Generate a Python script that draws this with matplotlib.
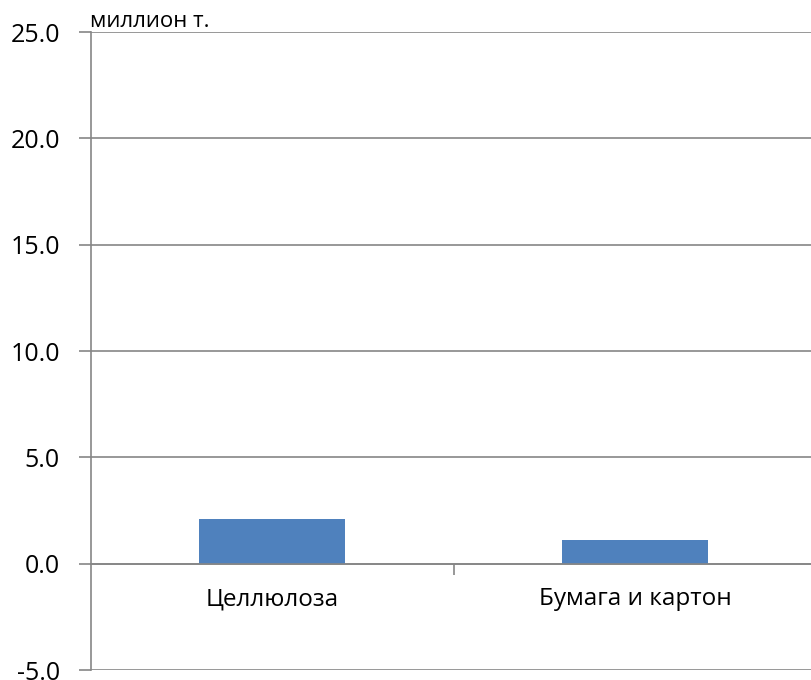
import matplotlib
matplotlib.use("Agg")
import matplotlib.pyplot as plt
from matplotlib.ticker import FixedLocator

categories = ["Целлюлоза", "Бумага и картон"]
values = [2.1, 1.1]
yticks = [-5.0, 0.0, 5.0, 10.0, 15.0, 20.0, 25.0]
unit_label = "миллион т."

plt.rcParams['font.family'] = ['Open Sans', 'DejaVu Sans']

W, H = 811, 680
fig = plt.figure(figsize=(W / 100, H / 100), dpi=100)
left_px, right_px, top_px, bot_px = 90.5, 816.5, 32, 670
ax = fig.add_axes([left_px / W, 1 - bot_px / H, (right_px - left_px) / W, (bot_px - top_px) / H])

grid_color = "#868686"
x = list(range(len(categories)))
ax.bar(x, values, width=0.4, color="#4F81BD", zorder=3)

ax.set_xlim(-0.5, len(categories) - 0.5)
ax.set_ylim(yticks[0], yticks[-1])
ax.set_yticks(yticks)
ax.set_yticklabels([f"{v:.1f}" for v in yticks], fontsize=18, color="#000000")
ax.yaxis.grid(True, color=grid_color, linewidth=1.2, zorder=0)
ax.tick_params(axis='y', length=9, width=1.2, color=grid_color, pad=13)

ax.spines['bottom'].set_position(('data', 0))
for s in ['top', 'right']:
    ax.spines[s].set_visible(False)
ax.spines['left'].set_color(grid_color)
ax.spines['left'].set_linewidth(1.2)
ax.spines['bottom'].set_color(grid_color)
ax.spines['bottom'].set_linewidth(1.2)
ax.spines['left'].set_zorder(4)
ax.spines['bottom'].set_zorder(4)

ax.set_xticks(x)
ax.set_xticklabels(categories, fontsize=17.5, color="#000000")
ax.tick_params(axis='x', which='major', length=0, pad=17)
ax.xaxis.set_minor_locator(FixedLocator([0.5]))
ax.tick_params(axis='x', which='minor', length=8, width=1.2, color=grid_color)

ax.text(0, 1.0, unit_label, transform=ax.transAxes, ha='left', va='bottom', fontsize=16)

fig.savefig("out.png", dpi=100)
